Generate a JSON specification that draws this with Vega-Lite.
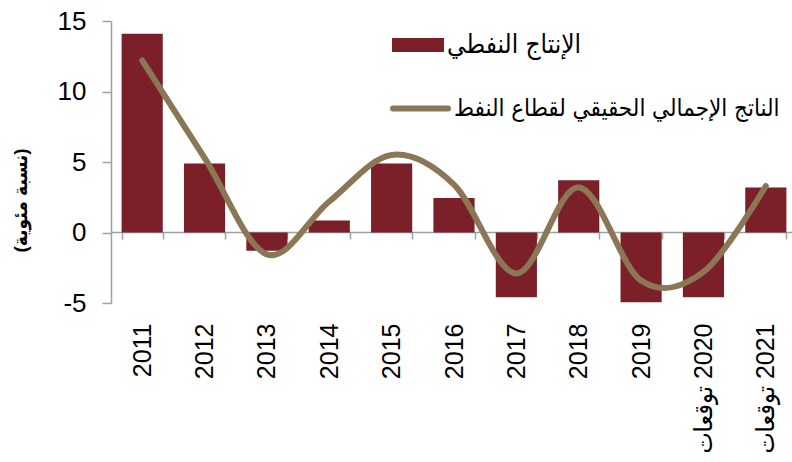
{
  "$schema": "https://vega.github.io/schema/vega-lite/v6.json",
  "autosize": "none",
  "width": 681,
  "height": 282,
  "padding": {"left": 111, "top": 21, "right": 0, "bottom": 159},
  "background": "white",
  "config": {"view": {"stroke": null}, "font": "Liberation Sans"},
  "data": {
    "values": [
      {"year": "2011", "oil": 14.1, "gdp": 12.2},
      {"year": "2012", "oil": 4.9, "gdp": 5.3},
      {"year": "2013", "oil": -1.3, "gdp": -1.55},
      {"year": "2014", "oil": 0.85, "gdp": 2.2},
      {"year": "2015", "oil": 4.9, "gdp": 5.5},
      {"year": "2016", "oil": 2.45, "gdp": 3.4},
      {"year": "2017", "oil": -4.6, "gdp": -2.9},
      {"year": "2018", "oil": 3.7, "gdp": 3.2},
      {"year": "2019", "oil": -4.95, "gdp": -3.4},
      {"year": "توقعات‎ 2020", "oil": -4.6, "gdp": -2.8},
      {"year": "توقعات‎ 2021", "oil": 3.2, "gdp": 3.3}
    ]
  },
  "encoding": {
    "x": {
      "field": "year",
      "type": "nominal",
      "sort": null,
      "scale": {"range": [0, 686], "paddingInner": 0.34, "paddingOuter": 0.17},
      "axis": {
        "orient": "bottom",
        "offset": -71,
        "title": null,
        "labelAngle": -90,
        "labelAlign": "right",
        "labelBaseline": "middle",
        "labelPadding": 84,
        "tickBand": "extent",
        "tickSize": 7,
        "domainColor": "#A0A0A0",
        "tickColor": "#A0A0A0",
        "domainWidth": 1.5,
        "tickWidth": 1.5,
        "labelFont": "Liberation Sans, DejaVu Sans Condensed, DejaVu Sans",
        "labelFontSize": 25,
        "labelColor": "black",
        "labelOverlap": false,
        "labelLimit": 0,
        "zindex": 0
      }
    }
  },
  "layer": [
    {
      "mark": {"type": "bar"},
      "encoding": {
        "y": {
          "field": "oil",
          "type": "quantitative",
          "scale": {"domain": [-5, 15], "nice": false, "zero": false},
          "axis": {
            "values": [-5, 0, 5, 10, 15],
            "labelExpr": "datum.value + ''",
            "grid": false,
            "title": "(نسبة مئوية)",
            "titleFont": "Liberation Sans, DejaVu Sans Condensed, DejaVu Sans",
            "titleFontWeight": "bold",
            "titleFontSize": 19,
            "titleColor": "black",
            "titleAngle": -90,
            "titleAlign": "center",
            "titleBaseline": "middle",
            "titleX": -91,
            "titleY": 179,
            "tickSize": 9,
            "labelPadding": 16,
            "labelFont": "Liberation Sans",
            "labelFontSize": 26,
            "labelColor": "black",
            "domainColor": "#A0A0A0",
            "tickColor": "#A0A0A0",
            "domainWidth": 1.5,
            "tickWidth": 1.5
          }
        },
        "fill": {
          "datum": "الإنتاج النفطي",
          "type": "nominal",
          "scale": {"range": ["#7B1F28"]},
          "legend": {
            "orient": "none",
            "legendX": 281,
            "legendY": -2,
            "title": null,
            "padding": 0,
            "symbolType": "M-1,-0.27H1V0.27H-1Z",
            "symbolSize": 2704,
            "symbolStrokeWidth": 0,
            "labelFont": "Liberation Sans, DejaVu Sans Condensed, DejaVu Sans",
            "labelFontSize": 26,
            "labelColor": "black",
            "labelOffset": 3,
            "labelLimit": 0
          }
        }
      }
    },
    {
      "mark": {"type": "line", "interpolate": "cardinal", "strokeWidth": 6, "strokeCap": "round"},
      "encoding": {
        "y": {"field": "gdp", "type": "quantitative"},
        "stroke": {
          "datum": "الناتج الإجمالي الحقيقي لقطاع النفط",
          "type": "nominal",
          "scale": {"range": ["#8B7756"]},
          "legend": {
            "orient": "none",
            "legendX": 279,
            "legendY": 57,
            "title": null,
            "padding": 0,
            "symbolType": "stroke",
            "symbolSize": 3025,
            "symbolStrokeWidth": 6,
            "labelFont": "Liberation Sans, DejaVu Sans Condensed, DejaVu Sans",
            "labelFontSize": 24,
            "labelColor": "black",
            "labelOffset": 3,
            "labelLimit": 0,
            "encode": {"symbols": {"update": {"strokeCap": {"value": "round"}}}}
          }
        }
      }
    }
  ]
}
